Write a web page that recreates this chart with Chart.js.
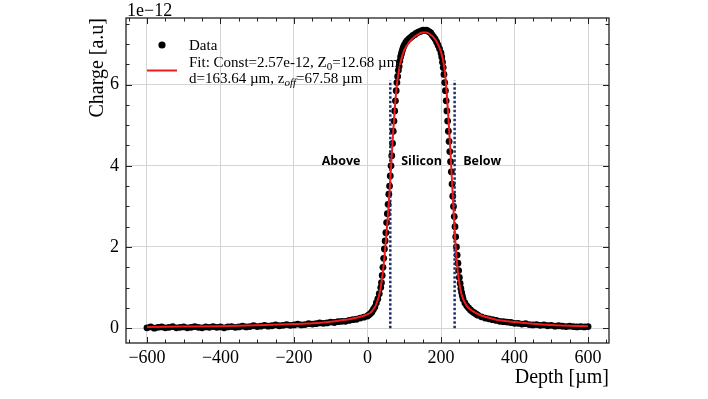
<!DOCTYPE html>
<html><head><meta charset="utf-8">
<script src="https://cdn.jsdelivr.net/npm/chart.js@4/dist/chart.umd.min.js"></script>
<style>html,body{margin:0;padding:0;background:#fff}#wrap{width:708px;height:399px;position:relative}</style>
</head><body><div id="wrap"><canvas id="c" width="708" height="399"></canvas></div>
<script>
// ---- data (charge in units of 1e-12 a.u.) ----
const dataDepth = [
-600,-590,-580,-570,-560,-550,-540,-530,-520,-510,-500,-490,-480,-470,-460,-450,-440,-430,-420,-410,
-400,-390,-380,-370,-360,-350,-340,-330,-320,-310,-300,-290,-280,-270,-260,-250,-240,-230,-220,-210,
-200,-190,-180,-170,-160,-150,-140,-130,-120,-110,-100,-90,-80,-70,-60,-50,-40,-30,-20,-10,
0,4,8,12,16,20,24,28,32,36,
38,40,42,44,46,48,50,52,54,56,58,60,62,64,66,68,70,72,74,76,78,80,82,84,86,88,90,92,94,96,98,100,
104,108,112,116,120,124,128,132,136,140,144,148,152,156,160,164,168,172,176,180,184,188,192,196,200,
202,204,206,208,210,212,214,216,218,220,222,224,226,228,230,232,234,236,238,240,242,244,246,248,250,252,254,256,258,260,
265,270,275,280,285,290,295,300,310,320,330,340,350,360,370,380,390,400,410,420,430,440,450,460,470,480,490,500,
510,520,530,540,550,560,570,580,590,600];
const dataCharge = [
0.01,0.03,0.00,0.02,0.03,0.01,0.02,0.04,0.01,0.02,0.03,0.01,0.02,0.04,0.02,0.01,0.03,0.02,0.04,0.02,
0.03,0.01,0.03,0.04,0.02,0.03,0.05,0.03,0.04,0.06,0.04,0.05,0.07,0.05,0.06,0.08,0.06,0.07,0.09,0.07,
0.08,0.10,0.08,0.09,0.11,0.10,0.11,0.13,0.12,0.13,0.15,0.14,0.16,0.17,0.17,0.19,0.21,0.22,0.25,0.27,
0.30,0.33,0.36,0.40,0.46,0.52,0.62,0.72,0.85,1.00,
1.12,1.30,1.50,1.72,1.95,2.15,2.35,2.60,2.82,3.05,3.30,3.50,3.75,4.00,4.25,4.55,4.85,5.10,5.35,5.60,5.85,6.05,6.20,6.35,6.45,6.58,6.68,6.75,6.82,6.88,6.93,6.97,
7.04,7.08,7.12,7.15,7.18,7.21,7.23,7.26,7.28,7.30,7.31,7.33,7.34,7.33,7.34,7.32,7.30,7.27,7.22,7.17,7.12,7.05,6.97,6.88,6.78,
6.68,6.55,6.42,6.25,6.05,5.85,5.60,5.35,5.10,4.85,4.60,4.35,4.10,3.85,3.55,3.25,3.00,2.75,2.50,2.25,2.00,1.80,1.60,1.42,1.25,1.10,0.98,0.88,0.80,0.72,
0.62,0.55,0.50,0.45,0.41,0.38,0.35,0.32,0.28,0.25,0.23,0.21,0.19,0.17,0.16,0.15,0.14,0.12,0.12,0.10,0.11,0.09,0.08,0.09,0.07,0.08,0.06,0.07,
0.05,0.06,0.05,0.04,0.05,0.04,0.03,0.04,0.03,0.04];
const fitDepth = [-600,-500,-400,-300,-200,-150,-100,-75,-50,-25,0,10,20,25,30,35,40,45,50,55,60,65,70,75,80,85,90,95,100,110,120,130,140,150,160,170,180,190,200,205,210,215,220,225,230,235,240,245,250,255,260,270,280,290,300,320,350,400,450,500,550,600];
const fitCharge = [0.03,0.04,0.05,0.07,0.10,0.12,0.16,0.19,0.22,0.27,0.34,0.40,0.52,0.62,0.76,0.95,1.25,1.65,2.15,2.72,3.38,4.10,4.85,5.50,6.00,6.32,6.55,6.72,6.85,7.00,7.11,7.19,7.25,7.28,7.28,7.24,7.16,7.02,6.80,6.62,6.35,5.85,5.20,4.45,3.60,2.75,2.00,1.45,1.10,0.86,0.72,0.55,0.46,0.40,0.35,0.28,0.21,0.15,0.11,0.08,0.06,0.05];
const boundaryDepth = [62, 237];
const boundaryTop = 6.1;
const regionLabels = ['Above', 'Silicon', 'Below'];
const regionLabelDepth = [-72, 147, 312];
const regionLabelCharge = 4.11;
const xTicks = [-600, -400, -200, 0, 200, 400, 600];
const yTicks = [0, 2, 4, 6];
const xMinorStep = 50, yMinorStep = 0.5;
const yOffsetText = '1e\u221212';
const legendData = 'Data';
const legendFit1 = ['Fit: Const=2.57e-12, Z', '0', '=12.68 \u00b5m,'];
const legendFit2 = ['d=163.64 \u00b5m, z', 'off', '=67.58 \u00b5m'];

const pts = (xs, ys) => xs.map((x, i) => ({x, y: ys[i]}));
const SERIF = '"Liberation Serif", "Times New Roman", serif';

const decor = {
  id: 'decor',
  afterDraw(chart) {
    const {ctx, chartArea: a, scales: {x, y}} = chart;
    ctx.save();
    // ticks (inward, all four sides)
    ctx.strokeStyle = '#222'; ctx.lineWidth = 1;
    const tickX = (v, len) => {
      const px = Math.round(x.getPixelForValue(v)) + 0.5;
      ctx.beginPath(); ctx.moveTo(px, a.bottom); ctx.lineTo(px, a.bottom - len);
      ctx.moveTo(px, a.top); ctx.lineTo(px, a.top + len); ctx.stroke();
    };
    const tickY = (v, len) => {
      const py = Math.round(y.getPixelForValue(v)) + 0.5;
      ctx.beginPath(); ctx.moveTo(a.left, py); ctx.lineTo(a.left + len, py);
      ctx.moveTo(a.right, py); ctx.lineTo(a.right - len, py); ctx.stroke();
    };
    for (let v = -650; v <= 650; v += xMinorStep) tickX(v, xTicks.includes(v) ? 6 : 3.5);
    for (let v = 0; v <= 7.5 + 1e-9; v += yMinorStep) tickY(v, yTicks.includes(v) ? 6 : 3.5);
    // frame
    ctx.lineWidth = 1.3; ctx.strokeStyle = '#222';
    ctx.strokeRect(a.left, a.top, a.right - a.left, a.bottom - a.top);
    // offset text
    ctx.fillStyle = '#000'; ctx.font = '18px ' + SERIF;
    ctx.textAlign = 'left'; ctx.textBaseline = 'alphabetic';
    ctx.fillText(yOffsetText, a.left + 1, a.top - 2);
    // region labels
    ctx.font = 'bold 12.5px "Open Sans", Lato, sans-serif';
    ctx.textAlign = 'center'; ctx.textBaseline = 'middle';
    regionLabels.forEach((t, i) => ctx.fillText(t, x.getPixelForValue(regionLabelDepth[i]), y.getPixelForValue(regionLabelCharge)));
    // legend
    ctx.fillStyle = '#000';
    ctx.beginPath(); ctx.arc(162, 45, 3.6, 0, Math.PI * 2); ctx.fill();
    ctx.strokeStyle = '#ee1c1c'; ctx.lineWidth = 2;
    ctx.beginPath(); ctx.moveTo(147, 70.5); ctx.lineTo(177, 70.5); ctx.stroke();
    ctx.textAlign = 'left'; ctx.textBaseline = 'alphabetic';
    ctx.font = '15px ' + SERIF;
    ctx.fillText(legendData, 189, 50);
    const drawSub = (parts, x0, yb, italicSub) => {
      ctx.font = '15px ' + SERIF; ctx.fillText(parts[0], x0, yb);
      let xx = x0 + ctx.measureText(parts[0]).width;
      ctx.font = (italicSub ? 'italic ' : '') + '11px ' + SERIF; ctx.fillText(parts[1], xx, yb + 3);
      xx += ctx.measureText(parts[1]).width;
      ctx.font = '15px ' + SERIF; ctx.fillText(parts[2], xx, yb);
    };
    drawSub(legendFit1, 189, 67, false);
    drawSub(legendFit2, 189, 83, true);
    ctx.restore();
  }
};

new Chart(document.getElementById('c'), {
  type: 'scatter',
  data: {
    datasets: [
      {label: 'Fit', data: pts(fitDepth, fitCharge), showLine: true, borderColor: '#ee1c1c', borderWidth: 2,
       pointRadius: 0, cubicInterpolationMode: 'monotone'},
      {label: 'b1', data: [{x: boundaryDepth[0], y: 0}, {x: boundaryDepth[0], y: boundaryTop}], showLine: true,
       borderColor: '#1b2f6e', borderWidth: 2.5, borderDash: [2.5, 2], pointRadius: 0},
      {label: 'b2', data: [{x: boundaryDepth[1], y: 0}, {x: boundaryDepth[1], y: boundaryTop}], showLine: true,
       borderColor: '#1b2f6e', borderWidth: 2.5, borderDash: [2.5, 2], pointRadius: 0},
      {label: 'Data', data: pts(dataDepth, dataCharge), pointRadius: 3.4, pointBackgroundColor: '#000',
       pointBorderWidth: 0, borderColor: '#000'}
    ]
  },
  options: {
    responsive: false, animation: false, devicePixelRatio: 1,
    layout: {padding: {left: 0, right: 99, top: 18, bottom: 0}},
    plugins: {legend: {display: false}, tooltip: {enabled: false}},
    scales: {
      x: {
        type: 'linear', min: -657, max: 657,
        afterBuildTicks: s => { s.ticks = xTicks.map(v => ({value: v})); },
        afterFit: s => { s.height = 56; },
        grid: {color: '#d4d4d4', lineWidth: 1, drawTicks: false},
        border: {display: false},
        ticks: {color: '#000', font: {family: SERIF, size: 18}, padding: 4, maxRotation: 0,
                callback: v => String(v).replace('-', '\u2212')},
        title: {display: true, text: 'Depth [\u00b5m]', align: 'end', color: '#000',
                font: {family: SERIF, size: 20}, padding: {top: 0, bottom: 9}}
      },
      y: {
        type: 'linear', min: -0.365, max: 7.64,
        afterBuildTicks: s => { s.ticks = yTicks.map(v => ({value: v})); },
        afterFit: s => { s.width = 126; },
        grid: {color: '#d4d4d4', lineWidth: 1, drawTicks: false},
        border: {display: false},
        ticks: {color: '#000', font: {family: SERIF, size: 18}, padding: 7,
                callback: v => String(v)},
        title: {display: true, text: 'Charge [a.u]', align: 'end', color: '#000',
                font: {family: SERIF, size: 20}, padding: {top: 86, bottom: 0}}
      }
    }
  },
  plugins: [decor]
});
</script></body></html>
